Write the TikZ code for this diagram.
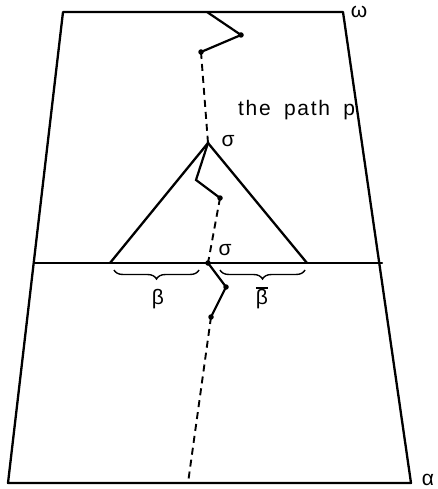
\documentclass[tikz,border=0pt]{standalone}
\usepackage{fontspec}
\setmainfont{Liberation Sans}
\usetikzlibrary{decorations.pathreplacing,calc}
\begin{document}
\begin{tikzpicture}[x=1pt,y=-1pt,
  edge/.style={line width=2.3pt,line cap=round,line join=round},
  pathsolid/.style={line width=2.2pt,line cap=round,line join=miter},
  pathdash/.style={line width=1.9pt,dash pattern=on 7pt off 5pt},
  dotpt/.style={circle,fill,inner sep=0pt,minimum size=5.5pt},
  lbl/.style={font=\fontsize{21}{24}\selectfont,inner sep=0pt},
  brc/.style={decorate,decoration={brace,amplitude=9pt,mirror},line width=1.4pt}]
\useasboundingbox (0,0) rectangle (437,489);
% quadrilateral
\coordinate (tl) at (63,12);
\coordinate (tr) at (343,12);
\coordinate (br) at (411,483);
\coordinate (bl) at (8,483);
\draw[edge] (tl) -- (tr) -- (br) -- (bl) -- cycle;
\coordinate (ml) at (35,263);
\coordinate (mr) at (382,263);
\draw[edge] (ml) -- (mr);
% triangle
\coordinate (apex) at (208,143);
\coordinate (tbl) at (110,263);
\coordinate (tbr) at (307,263);
\draw[edge] (tbl) -- (apex) -- (tbr);
% path p
\coordinate (p0) at (207,12);
\node[dotpt] (p1) at (241,35) {};
\node[dotpt] (p2) at (201,52) {};
\node[dotpt,minimum size=3pt] (p3) at (208,143) {};
\coordinate (p4) at (196,180);
\node[dotpt] (p5) at (220,198) {};
\node[dotpt] (p6) at (208,263) {};
\node[dotpt] (p7) at (226,287) {};
\node[dotpt] (p8) at (211,317) {};
\coordinate (p9) at (188,483);
\draw[pathsolid] (p0) -- (p1.center) -- (p2.center);
\draw[pathdash] (p2.center) -- (p3.center);
\draw[pathsolid] (p3.center) -- (p4) -- (p5.center);
\draw[pathdash] (p5.center) -- (p6.center);
\draw[pathsolid] (p6.center) -- (p7.center) -- (p8.center);
\draw[pathdash] (p8.center) -- (p9);
% braces
\coordinate (b1a) at (114,270);
\coordinate (b1b) at (199,270);
\coordinate (b2a) at (220,270);
\coordinate (b2b) at (305,270);
\draw[brc] (b1a) -- (b1b);
\draw[brc] (b2a) -- (b2b);
% labels
\node[lbl] (beta) at (158,299) {β};
\node[lbl] (betabar) at (262,299) {β};
\draw[line width=1.6pt] ($(betabar.north west)+(0,-1)$) -- ($(betabar.north east)+(0,-1)$);
\node[lbl] (sigma1) at (228,141) {σ};
\node[lbl] (sigma2) at (225,250) {σ};
\node[lbl,anchor=west] (pathlbl) at (238,110) {\addfontfeature{LetterSpace=8}the\; path\; p};
\node[lbl] (omega) at (359,12) {ω};
\node[lbl] (alpha) at (428,480) {α};
\end{tikzpicture}
\end{document}
